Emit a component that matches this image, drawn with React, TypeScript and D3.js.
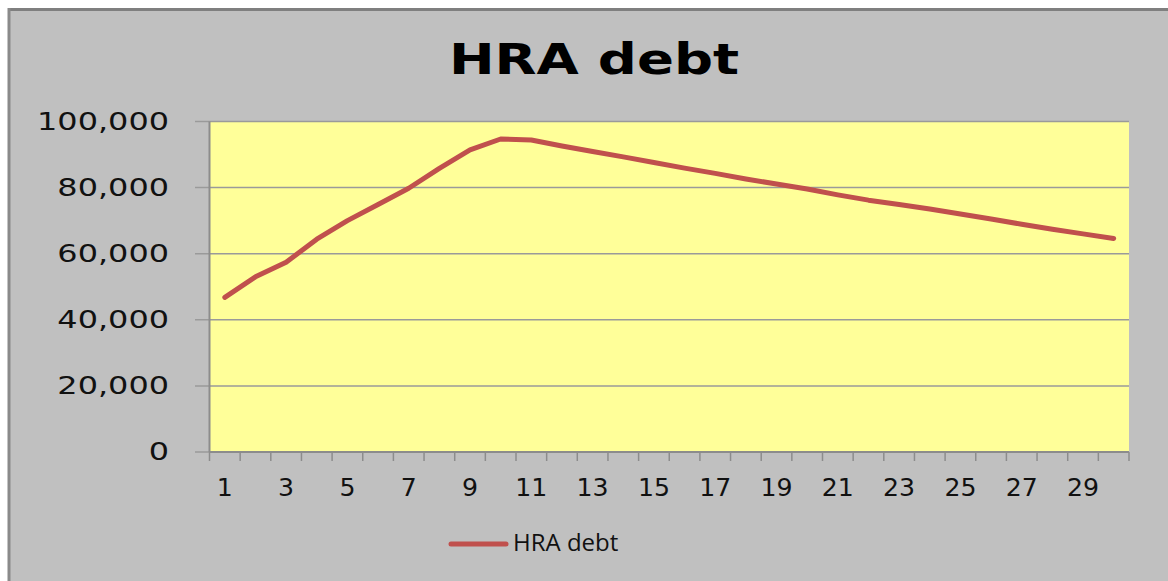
import React from "react";
import * as d3 from "d3";

const categories: number[] = Array.from({ length: 30 }, (_, i) => i + 1);
const debtValues: number[] = [
  46800, 53000, 57400, 64400, 70000, 74900, 79800, 85800, 91400, 94700,
  94400, 92600, 90900, 89300, 87600, 85900, 84300, 82600, 81100, 79600,
  77800, 76200, 74900, 73500, 72000, 70500, 68900, 67400, 66000, 64600,
];
const yTicks: number[] = [0, 20000, 40000, 60000, 80000, 100000];
const xTickLabels: number[] = categories.filter((c) => c % 2 === 1);
const title = "HRA debt";
const seriesName = "HRA debt";

const W = 1168;
const H = 581;
const plot = { left: 209.5, right: 1129, top: 121.5, bottom: 452 };

export default function App() {
  const x = d3
    .scaleBand<number>()
    .domain(categories)
    .range([plot.left, plot.right])
    .paddingInner(0)
    .paddingOuter(0);
  const y = d3.scaleLinear().domain([0, 100000]).range([plot.bottom, plot.top]);
  const fmt = d3.format(",");
  const line = d3
    .line<number>()
    .x((_, i) => (x(categories[i]) as number) + x.bandwidth() / 2)
    .y((d) => y(d));

  const boundaries = d3.range(categories.length + 1).map((i) => plot.left + i * x.step());
  const ySx = 1.33;
  const xSx = 1.05;

  return (
    <svg
      width={W}
      height={H}
      style={{ position: "absolute", left: 0, top: 0 }}
      xmlns="http://www.w3.org/2000/svg"
    >
      <rect x={0} y={0} width={W} height={H} fill="#ffffff" />
      <rect x={8} y={8} width={W} height={H} fill="#c0c0c0" />
      <line x1={8} y1={9.5} x2={W} y2={9.5} stroke="#7f7f7f" strokeWidth={3} />
      <line x1={9} y1={8} x2={9} y2={H} stroke="#8a8a8a" strokeWidth={3} />

      <text
        x={594}
        y={74}
        textAnchor="middle"
        fontFamily="DejaVu Sans"
        fontWeight="bold"
        fontSize={42}
        fill="#000"
        transform={`translate(594,0) scale(1.3,1) translate(-594,0)`}
      >
        {title}
      </text>

      <rect
        x={plot.left}
        y={plot.top}
        width={plot.right - plot.left}
        height={plot.bottom - plot.top}
        fill="#ffff99"
      />
      {yTicks.map((t) => (
        <g key={t}>
          <line
            x1={195}
            x2={plot.right}
            y1={y(t)}
            y2={y(t)}
            stroke="#9a9a9a"
            strokeWidth={1.5}
          />
          <text
            x={169}
            y={y(t)}
            dy="0.34em"
            textAnchor="end"
            fontFamily="DejaVu Sans"
            fontSize={24}
            fill="#111"
            transform={`translate(169,0) scale(${ySx},1) translate(-169,0)`}
          >
            {fmt(t)}
          </text>
        </g>
      ))}
      <line x1={plot.left} x2={plot.left} y1={plot.top} y2={plot.bottom} stroke="#8c8c8c" strokeWidth={2} />
      <line x1={plot.left} x2={plot.right} y1={plot.bottom} y2={plot.bottom} stroke="#8c8c8c" strokeWidth={2} />
      {boundaries.map((bx, i) => (
        <line key={i} x1={bx} x2={bx} y1={plot.bottom} y2={plot.bottom + 9} stroke="#8c8c8c" strokeWidth={1.5} />
      ))}
      {xTickLabels.map((c) => {
        const cx = (x(c) as number) + x.bandwidth() / 2;
        return (
          <text
            key={c}
            x={cx}
            y={496}
            textAnchor="middle"
            fontFamily="DejaVu Sans"
            fontSize={24}
            fill="#111"
            transform={`translate(${cx},0) scale(${xSx},1) translate(${-cx},0)`}
          >
            {c}
          </text>
        );
      })}

      <path
        d={line(debtValues) || ""}
        fill="none"
        stroke="#c0504d"
        strokeWidth={5}
        strokeLinejoin="round"
        strokeLinecap="round"
      />

      <line x1={451} x2={506} y1={544} y2={544} stroke="#c0504d" strokeWidth={5} strokeLinecap="round" />
      <text x={513} y={551} fontFamily="Open Sans" fontSize={24} fill="#111">
        {seriesName}
      </text>
    </svg>
  );
}
